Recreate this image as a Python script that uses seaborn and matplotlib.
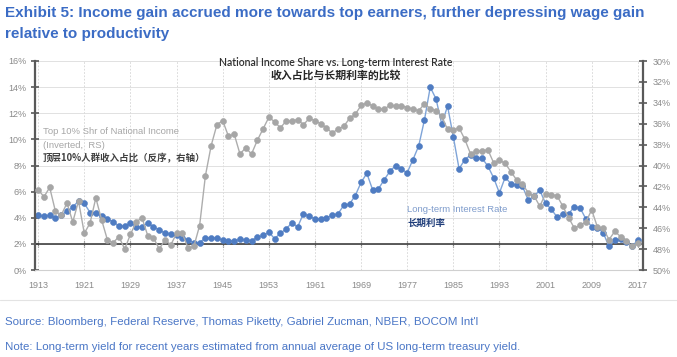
import matplotlib
matplotlib.use("Agg")
import matplotlib.pyplot as plt
import seaborn as sns
import pandas as pd
from matplotlib.ticker import FuncFormatter
from matplotlib.lines import Line2D

# ---------------- data ----------------
years = list(range(1913, 2018))

# Long-term interest rate (%), left axis
long_rate = [
    4.2, 4.1, 4.2, 3.95, 4.2, 4.5, 4.8, 5.3, 5.1, 4.4,      # 1913-1922
    4.4, 4.1, 3.9, 3.7, 3.35, 3.35, 3.6, 3.3, 3.3, 3.6,     # 1923-1932
    3.3, 3.1, 2.8, 2.75, 2.7, 2.45, 2.3, 2.1, 2.1, 2.45,    # 1933-1942
    2.45, 2.45, 2.3, 2.2, 2.25, 2.35, 2.3, 2.25, 2.5, 2.65, # 1943-1952
    2.9, 2.4, 2.8, 3.15, 3.6, 3.3, 4.3, 4.15, 3.9, 3.9,     # 1953-1962
    4.0, 4.2, 4.3, 4.95, 5.05, 5.7, 6.7, 7.4, 6.15, 6.2,    # 1963-1972
    6.9, 7.55, 8.0, 7.7, 7.45, 8.45, 9.5, 11.5, 14.0, 13.1, # 1973-1982
    11.15, 12.55, 10.2, 7.75, 8.45, 8.8, 8.55, 8.55, 7.95, 7.05,  # 1983-1992
    5.9, 7.1, 6.6, 6.5, 6.4, 5.35, 5.65, 6.1, 5.1, 4.65,    # 1993-2002
    4.05, 4.3, 4.3, 4.85, 4.75, 3.9, 3.3, 3.25, 2.85, 1.8,  # 2003-2012
    2.3, 2.35, 2.15, 1.8, 2.3,                              # 2013-2017
]

# Top 10% share of national income (%), right axis (inverted)
top10_share = [
    42.3, 43.0, 42.1, 44.4, 44.75, 43.6, 45.4, 43.4, 46.5, 45.5,   # 1913-1922
    43.1, 45.2, 47.1, 47.4, 46.8, 48.0, 46.6, 45.4, 45.0, 46.7,    # 1923-1932
    46.9, 48.0, 47.1, 47.6, 46.5, 46.5, 47.9, 47.75, 45.75, 41.0,  # 1933-1942
    38.1, 36.1, 35.7, 37.2, 37.0, 38.9, 38.3, 38.9, 37.6, 36.5,    # 1943-1952
    35.4, 35.8, 36.4, 35.75, 35.75, 35.6, 36.1, 35.5, 35.7, 36.0,  # 1953-1962
    36.4, 36.9, 36.5, 36.25, 35.5, 35.1, 34.25, 34.0, 34.3, 34.6,  # 1963-1972
    34.6, 34.25, 34.3, 34.3, 34.45, 34.6, 34.75, 34.1, 34.55, 34.75,  # 1973-1982
    35.3, 36.55, 36.6, 36.4, 37.5, 38.9, 38.6, 38.6, 38.5, 39.75,  # 1983-1992
    39.5, 39.8, 40.6, 41.4, 41.8, 42.6, 42.9, 43.9, 42.7, 42.8,    # 1993-2002
    42.9, 43.9, 45.0, 46.0, 45.7, 45.4, 44.25, 45.9, 46.0, 47.1,   # 2003-2012
    46.3, 46.8, 47.25, 47.75, 47.4,                                # 2013-2017
]

x_ticks = [1913, 1921, 1929, 1937, 1945, 1953, 1961, 1969, 1977, 1985, 1993, 2001, 2009, 2017]
left_ticks = [0, 2, 4, 6, 8, 10, 12, 14, 16]
right_ticks = [30, 32, 34, 36, 38, 40, 42, 44, 46, 48, 50]

title_line1 = "Exhibit 5: Income gain accrued more towards top earners, further depressing wage gain"
title_line2 = "relative to productivity"
chart_title_en = "National Income Share vs. Long-term Interest Rate"
chart_title_cn = "收入占比与长期利率的比较"
share_label_1 = "Top 10% Shr of National Income"
share_label_2 = "(Inverted,  RS)"
share_label_cn = "顶层10%人群收入占比（反序，右轴）"
rate_label_en = "Long-term Interest Rate"
rate_label_cn = "长期利率"
source_text = "Source: Bloomberg, Federal Reserve, Thomas Piketty, Gabriel Zucman, NBER, BOCOM Int'l"
note_text = "Note: Long-term yield for recent years estimated from annual average of US long-term treasury yield."

df = pd.DataFrame({"year": years, "rate": long_rate, "share": top10_share})

# ---------------- style ----------------
sns.set_theme(style="white")
plt.rcParams["font.family"] = ["Liberation Sans", "Noto Sans CJK SC", "DejaVu Sans"]

W, H = 677, 357
fig = plt.figure(figsize=(W / 100, H / 100), dpi=100)
L, R, T, B = 35, 643, 61, 270
ax = fig.add_axes([L / W, 1 - B / H, (R - L) / W, (B - T) / H])
ax2 = ax.twinx()

BLUE_DOT = "#4f7cc2"
BLUE_LINE = "#7fa4d8"
GRAY_DOT = "#a6a6a6"
GRAY_LINE = "#adadad"
AXIS_C = "#595959"
TICK_LBL = "#8a8a8a"

sns.lineplot(data=df, x="year", y="rate", ax=ax, color=BLUE_LINE, lw=1.0,
             marker="o", markersize=4.3, markerfacecolor=BLUE_DOT,
             markeredgecolor=BLUE_DOT, markeredgewidth=0.4)
sns.lineplot(data=df, x="year", y="share", ax=ax2, color=GRAY_LINE, lw=1.0,
             marker="o", markersize=4.3, markerfacecolor=GRAY_DOT,
             markeredgecolor=GRAY_DOT, markeredgewidth=0.4)

ax.set_xlim(1912.45, 2017.9)
ax.set_ylim(0, 16)
ax2.set_ylim(50, 30)

ax.set_xticks(x_ticks)
ax.set_yticks(left_ticks)
ax2.set_yticks(right_ticks)
pct = FuncFormatter(lambda v, p: f"{v:.0f}%")
ax.yaxis.set_major_formatter(pct)
ax2.yaxis.set_major_formatter(pct)

for a in (ax, ax2):
    a.set_xlabel("")
    a.set_ylabel("")

# grid
ax.grid(False)
ax2.grid(False)
ax.xaxis.grid(True, color="#d4d4d4", lw=0.6, ls=(0, (2, 2)))
ax.yaxis.grid(True, color="#dcdcdc", lw=0.6)
ax.set_axisbelow(True)

# dark reference line at 2%
ax.axhline(2, color="#404040", lw=1.2, zorder=1.5)
sec = ax.secondary_xaxis(2 / 16)
sec.set_xticks(x_ticks)
sec.tick_params(axis="x", direction="inout", length=4, width=0.8, color="#404040",
                labelbottom=False, labeltop=False)
for s in sec.spines.values():
    s.set_visible(False)

# spines
for a in (ax, ax2):
    a.spines["top"].set_visible(False)
ax.spines["right"].set_visible(False)
ax2.spines["left"].set_visible(False)
ax2.spines["bottom"].set_visible(False)
ax.spines["left"].set_color(AXIS_C)
ax.spines["left"].set_linewidth(1.6)
ax2.spines["right"].set_color(AXIS_C)
ax2.spines["right"].set_linewidth(1.6)
ax.spines["bottom"].set_color("#d0d0d0")
ax.spines["bottom"].set_linewidth(0.8)

ax.tick_params(axis="y", direction="inout", length=6, width=1.2, color=AXIS_C,
               labelsize=6.5, labelcolor=TICK_LBL, pad=3, left=True)
ax2.tick_params(axis="y", direction="inout", length=6, width=1.2, color=AXIS_C,
                labelsize=6.5, labelcolor=TICK_LBL, pad=4, right=True)
ax.tick_params(axis="x", length=0, labelsize=6.5, labelcolor=TICK_LBL, pad=8)

def fy(y):
    return 1 - y / H

# in-chart titles
fig.text(336 / W, fy(62), chart_title_en, ha="center", va="center",
         fontsize=7.6, color="#303030", family=["Lato", "DejaVu Sans"], fontweight="semibold")
fig.text(336 / W, fy(75), chart_title_cn, ha="center", va="center",
         fontsize=7.8, color="#262626", family=["Noto Sans CJK SC", "DejaVu Sans"], fontweight="bold")

# series annotations
fig.text(43 / W, fy(132), share_label_1, ha="left", va="center", fontsize=6.8, color="#a6a6a6")
fig.text(43 / W, fy(146), share_label_2, ha="left", va="center", fontsize=6.8, color="#a6a6a6")
fig.text(43 / W, fy(158), share_label_cn, ha="left", va="center", fontsize=6.8, color="#404040",
         family=["Noto Sans CJK SC", "DejaVu Sans"], fontweight="bold")
fig.text(407 / W, fy(210), rate_label_en, ha="left", va="center", fontsize=6.8, color="#7f9ccc")
fig.text(407 / W, fy(223), rate_label_cn, ha="left", va="center", fontsize=6.8, color="#1f3d7a",
         family=["Noto Sans CJK SC", "DejaVu Sans"], fontweight="bold")

# header / footer
TITLE_C = "#3b6cc5"
fig.text(5 / W, fy(17), title_line1, ha="left", va="baseline", fontsize=10.95,
         fontweight="bold", color=TITLE_C)
fig.text(5 / W, fy(38), title_line2, ha="left", va="baseline", fontsize=10.95,
         fontweight="bold", color=TITLE_C)
fig.add_artist(Line2D([0, 1], [fy(300), fy(300)], transform=fig.transFigure,
                      color="#e3e3e3", lw=0.8))
FOOT_C = "#4a76c6"
fig.text(5 / W, fy(325), source_text, ha="left", va="baseline", fontsize=8.25, color=FOOT_C)
fig.text(5 / W, fy(350), note_text, ha="left", va="baseline", fontsize=8.25, color=FOOT_C)

fig.savefig("out.png", dpi=100, facecolor="white")
